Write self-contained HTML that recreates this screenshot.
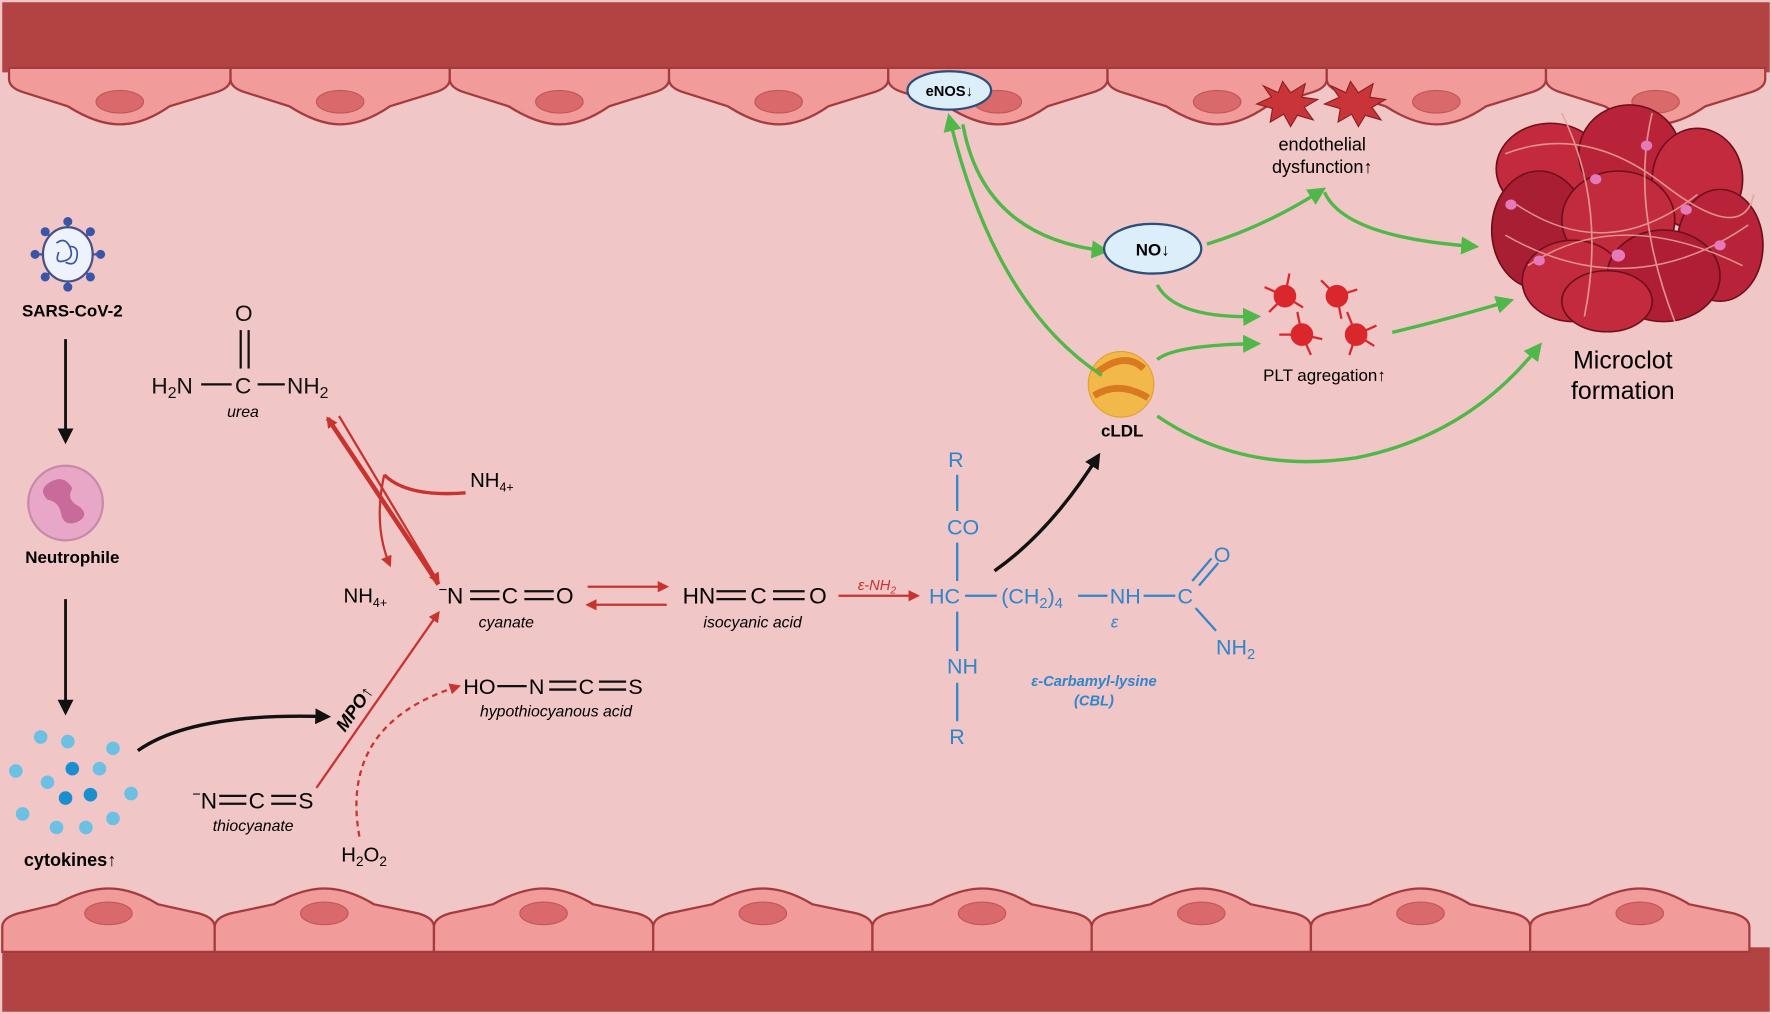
<!DOCTYPE html>
<html><head><meta charset="utf-8"><style>
html,body{margin:0;padding:0;background:#fff}
svg{display:block}
text{font-family:"Liberation Sans",sans-serif}
</style></head><body>
<svg width="1772" height="1014" viewBox="0 0 1568 897" preserveAspectRatio="none" xmlns="http://www.w3.org/2000/svg">
<defs>
<marker id="abk" markerWidth="14" markerHeight="14" refX="11" refY="7" orient="auto" markerUnits="userSpaceOnUse"><path d="M0,0 L14,7 L0,14 Z" fill="#111"/></marker>
<marker id="ar" markerWidth="10" markerHeight="10" refX="8" refY="5" orient="auto" markerUnits="userSpaceOnUse"><path d="M0,0 L10,5 L0,10 Z" fill="#c8332e"/></marker>
<marker id="ag" markerWidth="16" markerHeight="16" refX="12" refY="8" orient="auto" markerUnits="userSpaceOnUse"><path d="M0,0 L16,8 L0,16 Z" fill="#4fb848"/></marker>
</defs>
<rect width="1568" height="897" fill="#f0c6c6"/>
<rect x="2" y="2" width="1564" height="62" fill="#b34243"/>
<rect x="2" y="838" width="1564" height="57" fill="#b34243"/>
<g fill="#f19b9a" stroke="#a53b3c" stroke-width="2">
<path d="M8 60 L8 70 Q8 78 22 82 L60 94 Q85 110 106 110 Q127 110 150 94 L190 82 Q204 78 204 70 L204 60Z"/>
<path d="M204 60 L204 70 Q204 78 218 82 L256 94 Q281 110 301 110 Q322 110 345 94 L384 82 Q398 78 398 70 L398 60Z"/>
<path d="M398 60 L398 70 Q398 78 412 82 L450 94 Q475 110 495 110 Q516 110 539 94 L578 82 Q592 78 592 70 L592 60Z"/>
<path d="M592 60 L592 70 Q592 78 606 82 L644 94 Q669 110 689 110 Q710 110 733 94 L772 82 Q786 78 786 70 L786 60Z"/>
<path d="M786 60 L786 70 Q786 78 800 82 L838 94 Q863 110 883 110 Q904 110 927 94 L966 82 Q980 78 980 70 L980 60Z"/>
<path d="M980 60 L980 70 Q980 78 994 82 L1032 94 Q1057 110 1077 110 Q1098 110 1121 94 L1160 82 Q1174 78 1174 70 L1174 60Z"/>
<path d="M1174 60 L1174 70 Q1174 78 1188 82 L1226 94 Q1251 110 1271 110 Q1292 110 1315 94 L1354 82 Q1368 78 1368 70 L1368 60Z"/>
<path d="M1368 60 L1368 70 Q1368 78 1382 82 L1420 94 Q1445 110 1465 110 Q1486 110 1509 94 L1548 82 Q1562 78 1562 70 L1562 60Z"/>
</g>
<g fill="#d9696b" stroke="#c0585a">
<ellipse cx="106" cy="90" rx="21" ry="10"/><ellipse cx="301" cy="90" rx="21" ry="10"/><ellipse cx="495" cy="90" rx="21" ry="10"/><ellipse cx="689" cy="90" rx="21" ry="10"/><ellipse cx="883" cy="90" rx="21" ry="10"/><ellipse cx="1077" cy="90" rx="21" ry="10"/><ellipse cx="1271" cy="90" rx="21" ry="10"/><ellipse cx="1465" cy="90" rx="21" ry="10"/>
</g>
<g fill="#f19b9a" stroke="#a53b3c" stroke-width="2">
<path d="M2 842 L2 820 Q2 812 16 808 L50 800 Q75 786 96 786 Q117 786 140 800 L176 808 Q190 812 190 820 L190 842Z"/>
<path d="M190 842 L190 820 Q190 812 204 808 L242 800 Q267 786 287 786 Q308 786 331 800 L370 808 Q384 812 384 820 L384 842Z"/>
<path d="M384 842 L384 820 Q384 812 398 808 L436 800 Q461 786 481 786 Q502 786 525 800 L564 808 Q578 812 578 820 L578 842Z"/>
<path d="M578 842 L578 820 Q578 812 592 808 L630 800 Q655 786 675 786 Q696 786 719 800 L758 808 Q772 812 772 820 L772 842Z"/>
<path d="M772 842 L772 820 Q772 812 786 808 L824 800 Q849 786 869 786 Q890 786 913 800 L952 808 Q966 812 966 820 L966 842Z"/>
<path d="M966 842 L966 820 Q966 812 980 808 L1018 800 Q1043 786 1063 786 Q1084 786 1107 800 L1146 808 Q1160 812 1160 820 L1160 842Z"/>
<path d="M1160 842 L1160 820 Q1160 812 1174 808 L1212 800 Q1237 786 1257 786 Q1278 786 1301 800 L1340 808 Q1354 812 1354 820 L1354 842Z"/>
<path d="M1354 842 L1354 820 Q1354 812 1368 808 L1406 800 Q1431 786 1451 786 Q1472 786 1495 800 L1534 808 Q1548 812 1548 820 L1548 842Z"/>
</g>
<g fill="#d9696b" stroke="#c0585a">
<ellipse cx="96" cy="808" rx="21" ry="10"/><ellipse cx="287" cy="808" rx="21" ry="10"/><ellipse cx="481" cy="808" rx="21" ry="10"/><ellipse cx="675" cy="808" rx="21" ry="10"/><ellipse cx="869" cy="808" rx="21" ry="10"/><ellipse cx="1063" cy="808" rx="21" ry="10"/><ellipse cx="1257" cy="808" rx="21" ry="10"/><ellipse cx="1451" cy="808" rx="21" ry="10"/>
</g>

<!-- left column -->
<g stroke="#3a55a8" stroke-width="2" fill="#3a55a8">
<line x1="60" y1="196" x2="60" y2="254"/><line x1="31" y1="225" x2="89" y2="225"/><line x1="40" y1="205" x2="80" y2="245"/><line x1="80" y1="205" x2="40" y2="245"/>
<circle cx="60" cy="196" r="3"/><circle cx="60" cy="254" r="3"/><circle cx="31" cy="225" r="3"/><circle cx="89" cy="225" r="3"/><circle cx="40" cy="205" r="3"/><circle cx="80" cy="245" r="3"/><circle cx="80" cy="205" r="3"/><circle cx="40" cy="245" r="3"/>
</g>
<ellipse cx="60" cy="225" rx="22" ry="24" fill="#eef3fb" stroke="#4a4f8a" stroke-width="2"/>
<path d="M50 215 q8 -6 12 4 q4 10 -6 12 q-8 2 -4 -8 M62 218 q8 0 6 10 q-2 8 -10 4" fill="none" stroke="#3a55a8" stroke-width="1.5"/>
<text x="64" y="280" font-size="15" font-weight="bold" text-anchor="middle">SARS-CoV-2</text>
<line x1="58" y1="300" x2="58" y2="390" stroke="#111" stroke-width="2.5" marker-end="url(#abk)"/>
<circle cx="58" cy="445" r="33" fill="#e8a7c6" stroke="#c78aa9" stroke-width="2"/>
<path d="M42 428 q14 -10 22 4 q-6 10 6 16 q10 8 -2 14 q-12 4 -14 -8 q-2 -10 -12 -12 q-8 -8 0 -14z" fill="#c86b9a"/>
<text x="64" y="498" font-size="15" font-weight="bold" text-anchor="middle">Neutrophile</text>
<line x1="58" y1="530" x2="58" y2="630" stroke="#111" stroke-width="2.5" marker-end="url(#abk)"/>
<g fill="#6cc0e3">
<circle cx="36" cy="652" r="6"/><circle cx="60" cy="656" r="6"/><circle cx="100" cy="662" r="6"/><circle cx="14" cy="682" r="6"/><circle cx="42" cy="692" r="6"/><circle cx="88" cy="680" r="6"/><circle cx="116" cy="702" r="6"/><circle cx="20" cy="720" r="6"/><circle cx="100" cy="724" r="6"/><circle cx="50" cy="732" r="6"/><circle cx="76" cy="732" r="6"/>
</g>
<g fill="#1a8fd0"><circle cx="64" cy="680" r="6"/><circle cx="58" cy="706" r="6"/><circle cx="80" cy="703" r="6"/></g>
<text x="62" y="766" font-size="16" font-weight="bold" text-anchor="middle">cytokines↑</text>
<path d="M122 664 Q170 630 290 634" fill="none" stroke="#111" stroke-width="3" marker-end="url(#abk)"/>

<!-- chemistry -->
<g font-size="20" fill="#111">
<text x="208" y="284">O</text>
<line x1="213" y1="292" x2="213" y2="326" stroke="#111" stroke-width="2"/><line x1="220" y1="292" x2="220" y2="326" stroke="#111" stroke-width="2"/>
<text x="134" y="348">H<tspan font-size="14" dy="4">2</tspan><tspan dy="-4">N</tspan></text>
<line x1="178" y1="340" x2="205" y2="340" stroke="#111" stroke-width="2"/>
<text x="208" y="348">C</text>
<line x1="228" y1="340" x2="252" y2="340" stroke="#111" stroke-width="2"/>
<text x="254" y="348">NH<tspan font-size="14" dy="4">2</tspan></text>
</g>
<text x="215" y="369" font-size="14" font-style="italic" text-anchor="middle">urea</text>

<path d="M388 517 L290 370" stroke="#c8332e" stroke-width="4" fill="none" marker-end="url(#ar)"/>
<path d="M300 368 L388 515" stroke="#c8332e" stroke-width="2" fill="none" marker-end="url(#ar)"/>
<path d="M412 436 Q360 440 340 420" stroke="#c8332e" stroke-width="3" fill="none"/>
<path d="M340 420 Q330 465 345 500" stroke="#c8332e" stroke-width="2" fill="none" marker-end="url(#ar)"/>
<text x="416" y="431" font-size="18">NH<tspan font-size="11" dy="4">4+</tspan></text>
<text x="304" y="533" font-size="18">NH<tspan font-size="11" dy="4">4+</tspan></text>

<g font-size="20">
<text x="388" y="534"><tspan font-size="13" dy="-8">−</tspan><tspan dy="8">N</tspan></text>
<line x1="416" y1="523" x2="442" y2="523" stroke="#111" stroke-width="2"/><line x1="416" y1="530" x2="442" y2="530" stroke="#111" stroke-width="2"/>
<text x="444" y="534">C</text>
<line x1="464" y1="523" x2="490" y2="523" stroke="#111" stroke-width="2"/><line x1="464" y1="530" x2="490" y2="530" stroke="#111" stroke-width="2"/>
<text x="492" y="534">O</text>
</g>
<text x="448" y="555" font-size="14" font-style="italic" text-anchor="middle">cyanate</text>
<line x1="520" y1="519" x2="590" y2="519" stroke="#c8332e" stroke-width="2" marker-end="url(#ar)"/>
<line x1="590" y1="535" x2="520" y2="535" stroke="#c8332e" stroke-width="2" marker-end="url(#ar)"/>
<g font-size="20">
<text x="604" y="534">HN</text>
<line x1="634" y1="523" x2="660" y2="523" stroke="#111" stroke-width="2"/><line x1="634" y1="530" x2="660" y2="530" stroke="#111" stroke-width="2"/>
<text x="664" y="534">C</text>
<line x1="684" y1="523" x2="712" y2="523" stroke="#111" stroke-width="2"/><line x1="684" y1="530" x2="712" y2="530" stroke="#111" stroke-width="2"/>
<text x="716" y="534">O</text>
</g>
<text x="666" y="555" font-size="14" font-style="italic" text-anchor="middle">isocyanic acid</text>
<line x1="742" y1="527" x2="812" y2="527" stroke="#c8332e" stroke-width="2" marker-end="url(#ar)"/>
<text x="776" y="522" font-size="13" font-style="italic" fill="#c8332e" text-anchor="middle">ε-NH<tspan font-size="9" dy="3">2</tspan></text>

<g font-size="20">
<text x="170" y="715"><tspan font-size="13" dy="-8">−</tspan><tspan dy="8">N</tspan></text>
<line x1="194" y1="704" x2="218" y2="704" stroke="#111" stroke-width="2"/><line x1="194" y1="711" x2="218" y2="711" stroke="#111" stroke-width="2"/>
<text x="220" y="715">C</text>
<line x1="240" y1="704" x2="262" y2="704" stroke="#111" stroke-width="2"/><line x1="240" y1="711" x2="262" y2="711" stroke="#111" stroke-width="2"/>
<text x="264" y="715">S</text>
</g>
<text x="224" y="735" font-size="14" font-style="italic" text-anchor="middle">thiocyanate</text>
<line x1="280" y1="697" x2="388" y2="542" stroke="#c8332e" stroke-width="2" marker-end="url(#ar)"/>
<text x="318" y="630" font-size="16" font-weight="bold" font-style="italic" transform="rotate(-55 318 630)" text-anchor="middle">MPO↑</text>
<path d="M318 740 Q300 640 406 607" stroke="#c8332e" stroke-width="2" stroke-dasharray="5 4" fill="none" marker-end="url(#ar)"/>
<text x="302" y="762" font-size="18">H<tspan font-size="12" dy="4">2</tspan><tspan dy="-4">O</tspan><tspan font-size="12" dy="4">2</tspan></text>
<g font-size="19">
<text x="410" y="614">HO</text>
<line x1="440" y1="607" x2="466" y2="607" stroke="#111" stroke-width="2"/>
<text x="468" y="614">N</text>
<line x1="486" y1="603" x2="510" y2="603" stroke="#111" stroke-width="2"/><line x1="486" y1="610" x2="510" y2="610" stroke="#111" stroke-width="2"/>
<text x="512" y="614">C</text>
<line x1="530" y1="603" x2="554" y2="603" stroke="#111" stroke-width="2"/><line x1="530" y1="610" x2="554" y2="610" stroke="#111" stroke-width="2"/>
<text x="556" y="614">S</text>
</g>
<text x="492" y="634" font-size="14" font-style="italic" text-anchor="middle">hypothiocyanous acid</text>

<!-- CBL -->
<g fill="#2f86cc" font-size="19" stroke="none">
<text x="839" y="413">R</text>
<text x="838" y="473">CO</text>
<text x="822" y="534">HC</text>
<text x="886" y="534">(CH<tspan font-size="13" dy="4">2</tspan><tspan dy="-4">)</tspan><tspan font-size="13" dy="4">4</tspan></text>
<text x="982" y="534">NH</text>
<text x="1042" y="534">C</text>
<text x="1074" y="497">O</text>
<text x="1076" y="579">NH<tspan font-size="13" dy="4">2</tspan></text>
<text x="838" y="596">NH</text>
<text x="840" y="658">R</text>
<text x="983" y="555" font-size="15" font-style="italic">ε</text>
</g>
<g stroke="#2f86cc" stroke-width="2">
<line x1="847" y1="420" x2="847" y2="452"/><line x1="847" y1="480" x2="847" y2="514"/><line x1="847" y1="541" x2="847" y2="576"/><line x1="847" y1="604" x2="847" y2="638"/>
<line x1="854" y1="527" x2="882" y2="527"/><line x1="954" y1="527" x2="980" y2="527"/><line x1="1012" y1="527" x2="1040" y2="527"/>
<line x1="1055" y1="514" x2="1072" y2="494"/><line x1="1061" y1="518" x2="1078" y2="498"/><line x1="1058" y1="538" x2="1076" y2="558"/>
</g>
<text x="968" y="607" font-size="13" font-weight="bold" font-style="italic" fill="#2f86cc" text-anchor="middle">ε-Carbamyl-lysine</text>
<text x="968" y="624" font-size="13" font-weight="bold" font-style="italic" fill="#2f86cc" text-anchor="middle">(CBL)</text>
<path d="M880 505 Q930 470 972 403" stroke="#111" stroke-width="3" fill="none" marker-end="url(#abk)"/>

<!-- right side -->
<circle cx="992" cy="340" r="29" fill="#f2b94a" stroke="#e0a030"/>
<path d="M970 330 Q995 310 1012 326 M968 350 Q990 336 1016 352" stroke="#d97a20" stroke-width="6" fill="none"/>
<text x="993" y="386" font-size="15" font-weight="bold" text-anchor="middle">cLDL</text>
<path d="M975 332 Q880 270 840 104" stroke="#4fb848" stroke-width="3" fill="none" marker-end="url(#ag)"/>
<path d="M852 110 Q870 210 978 222" stroke="#4fb848" stroke-width="3" fill="none" marker-end="url(#ag)"/>
<ellipse cx="840" cy="80" rx="37" ry="17" fill="#dceefa" stroke="#2b4f7a" stroke-width="2"/>
<text x="840" y="85" font-size="13" font-weight="bold" text-anchor="middle">eNOS↓</text>
<ellipse cx="1020" cy="220" rx="43" ry="22" fill="#dceefa" stroke="#2b4f7a" stroke-width="2"/>
<text x="1020" y="226" font-size="15" font-weight="bold" text-anchor="middle">NO↓</text>
<path d="M1068 216 Q1120 200 1170 168" stroke="#4fb848" stroke-width="3" fill="none" marker-end="url(#ag)"/>
<path d="M1172 170 Q1190 210 1305 218" stroke="#4fb848" stroke-width="3" fill="none" marker-end="url(#ag)"/>
<path d="M1024 252 Q1040 282 1112 280" stroke="#4fb848" stroke-width="3" fill="none" marker-end="url(#ag)"/>
<path d="M1024 318 Q1040 305 1112 304" stroke="#4fb848" stroke-width="3" fill="none" marker-end="url(#ag)"/>
<path d="M1232 294 Q1290 280 1336 266" stroke="#4fb848" stroke-width="3" fill="none" marker-end="url(#ag)"/>
<path d="M1024 368 Q1100 420 1200 405 Q1300 385 1362 306" stroke="#4fb848" stroke-width="3" fill="none" marker-end="url(#ag)"/>
<g fill="#c93438" stroke="#8a1f22">
<polygon points="1135,72 1142,82 1155,74 1152,86 1166,88 1154,95 1162,106 1148,102 1142,112 1136,101 1124,108 1126,96 1112,92 1125,86 1118,76 1131,82"/>
<polygon points="1195,72 1202,82 1215,74 1212,86 1226,88 1214,95 1222,106 1208,102 1202,112 1196,101 1184,108 1186,96 1172,92 1185,86 1178,76 1191,82"/>
</g>
<text x="1170" y="133" font-size="16" text-anchor="middle">endothelial</text>
<text x="1170" y="153" font-size="16" text-anchor="middle">dysfunction↑</text>
<g fill="#d9272c" stroke="#d9272c" stroke-width="2">
<circle cx="1137" cy="262" r="9"/><circle cx="1183" cy="262" r="9"/><circle cx="1152" cy="296" r="9"/><circle cx="1200" cy="296" r="9"/>
<path d="M1137 262 l-18 -8 M1137 262 l-14 14 M1137 262 l4 -20 M1137 262 l16 10 M1183 262 l-14 -14 M1183 262 l18 -6 M1183 262 l4 20 M1152 296 l-20 0 M1152 296 l-4 -20 M1152 296 l8 18 M1152 296 l18 4 M1200 296 l-8 -20 M1200 296 l18 -8 M1200 296 l16 10 M1200 296 l-6 18" fill="none"/>
</g>
<text x="1172" y="337" font-size="15" text-anchor="middle">PLT agregation↑</text>
<!-- clot -->
<g transform="translate(1438,190) scale(1,0.9) translate(-1436,-210)">
<g stroke="#6e0f1a" stroke-width="1.5">
<ellipse cx="1370" cy="165" rx="48" ry="45" fill="#c42a3e"/>
<ellipse cx="1440" cy="150" rx="45" ry="48" fill="#b8233a"/>
<ellipse cx="1500" cy="175" rx="40" ry="50" fill="#c42a3e"/>
<ellipse cx="1360" cy="225" rx="42" ry="58" fill="#a81f34"/>
<ellipse cx="1430" cy="215" rx="50" ry="48" fill="#c22a3d"/>
<ellipse cx="1520" cy="240" rx="38" ry="55" fill="#b8233a"/>
<ellipse cx="1390" cy="275" rx="45" ry="40" fill="#c22a3d"/>
<ellipse cx="1470" cy="270" rx="50" ry="45" fill="#b01e35"/>
<ellipse cx="1420" cy="295" rx="40" ry="30" fill="#c42a3e"/>
</g>
<g stroke="#e8a49a" stroke-width="1.5" fill="none" opacity="0.85">
<path d="M1330 150 Q1400 120 1470 180 T1550 190"/><path d="M1340 200 Q1420 260 1500 190"/><path d="M1350 260 Q1430 200 1540 260"/><path d="M1380 110 Q1420 200 1400 310"/><path d="M1460 110 Q1440 200 1480 315"/><path d="M1330 230 Q1440 300 1545 220"/>
</g>
<g fill="#e47ab8"><circle cx="1430" cy="250" r="6"/><circle cx="1335" cy="200" r="5"/><circle cx="1490" cy="205" r="5"/><circle cx="1410" cy="175" r="5"/><circle cx="1520" cy="240" r="5"/><circle cx="1360" cy="255" r="5"/><circle cx="1455" cy="142" r="5"/></g>
</g>
<text x="1436" y="326" font-size="22" text-anchor="middle">Microclot</text>
<text x="1436" y="353" font-size="22" text-anchor="middle">formation</text>
</svg>
</body></html>
